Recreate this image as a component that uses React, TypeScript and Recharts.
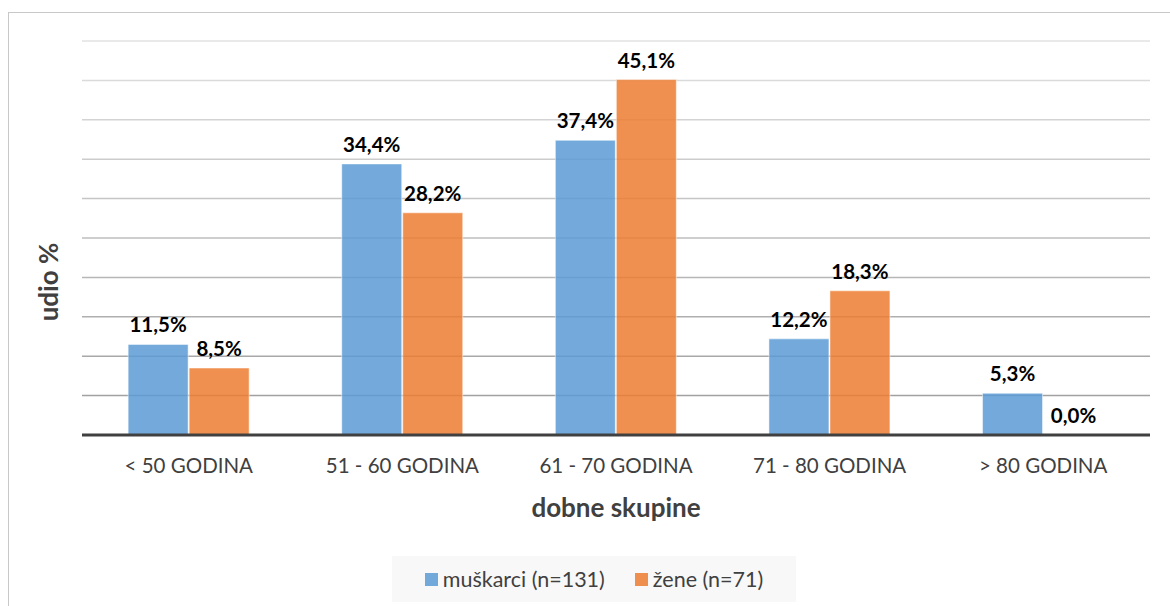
import { Bar, BarChart, CartesianGrid, LabelList, Legend, XAxis, YAxis } from "recharts";

const categories = ["< 50 GODINA", "51 - 60 GODINA", "61 - 70 GODINA", "71 - 80 GODINA", "> 80 GODINA"];
const muskarci = [11.5, 34.4, 37.4, 12.2, 5.3];
const zene = [8.5, 28.2, 45.1, 18.3, 0.0];
const yTicks = [0, 5, 10, 15, 20, 25, 30, 35, 40, 45, 50];

const series = [
  { key: "m", name: "muškarci (n=131)", color: "#5B9BD5" },
  { key: "z", name: "žene (n=71)", color: "#ED7D31" },
];

const data = categories.map((c, i) => ({ cat: c, m: muskarci[i], z: zene[i] }));

const FONT = "Lato, 'Open Sans', sans-serif";
const fmt = (v: any) => Number(v).toFixed(1).replace(".", ",") + "%";

function LegendBox() {
  return (
    <div
      style={{
        display: "flex",
        justifyContent: "center",
        alignItems: "center",
        gap: 30,
        width: 404,
        height: 46,
        background: "#f8f8f8",
        fontFamily: FONT,
        fontSize: 21.5,
        color: "#404040",
      }}
    >
      {series.map((s) => (
        <span key={s.key} style={{ display: "flex", alignItems: "center", gap: 5 }}>
          <span style={{ width: 13, height: 13, background: s.color, opacity: 0.85, display: "inline-block" }} />
          {s.name}
        </span>
      ))}
    </div>
  );
}

function ValueLabel(props: any) {
  const { x, y, width, height, value } = props;
  if (value === undefined || value === null) return null;
  const top = Math.min(Number(y), Number(y) + Number(height || 0));
  return (
    <text
      x={Number(x) + Number(width) / 2}
      y={top - 12}
      textAnchor="middle"
      fontFamily={FONT}
      fontWeight="bold"
      fontSize={20.5}
      fill="#000"
    >
      {fmt(value)}
    </text>
  );
}

function AxisTitles() {
  return (
    <g>
      <text x={616} y={517} textAnchor="middle" fontFamily={FONT} fontWeight="bold" fontSize={26} fill="#404040">
        dobne skupine
      </text>
      <text
        x={58}
        y={282}
        transform="rotate(-90, 58, 282)"
        textAnchor="middle"
        fontFamily={FONT}
        fontWeight="bold"
        fontSize={26}
        fill="#404040"
      >
        udio %
      </text>
    </g>
  );
}

export default function App() {
  return (
    <div style={{ position: "absolute", left: 0, top: 0, width: 1170, height: 606, background: "#fff", overflow: "hidden" }}>
      <div style={{ position: "absolute", left: 8, top: 12, width: 1180, height: 620, border: "1px solid #c8c8c8" }} />
      <div style={{ position: "absolute", left: 0, top: 0 }}>
        <BarChart
          width={1170}
          height={606}
          data={data}
          margin={{ top: 41, right: 20, bottom: 65, left: 82 }}
          barCategoryGap="21.6%"
          barGap={1}
        >
          <defs>
            <linearGradient id="gridGrad" gradientUnits="userSpaceOnUse" x1="0" y1="41" x2="0" y2="433">
              <stop offset="0" stopColor="#e2e2e2" />
              <stop offset="1" stopColor="#9a9a9a" />
            </linearGradient>
          </defs>
          <CartesianGrid vertical={false} stroke="url(#gridGrad)" strokeWidth={1.5} />
          <YAxis domain={[0, 50]} ticks={yTicks} hide />
          <XAxis
            dataKey="cat"
            height={60}
            tickLine={false}
            tickSize={0}
            tickMargin={23}
            axisLine={{ stroke: "#404040", strokeWidth: 3 }}
            tick={{ fill: "#404040", fontSize: 20.5, fontFamily: FONT }}
            label={{ content: () => <AxisTitles /> }}
          />
          <Legend
            content={() => <LegendBox />}
            wrapperStyle={{ position: "absolute", left: 392, top: 556, width: 404, height: 46, bottom: "auto" }}
          />
          {series.map((s) => (
            <Bar
              key={s.key}
              dataKey={s.key}
              name={s.name}
              fill={s.color}
              fillOpacity={0.85}
              stroke="#ffffff"
              strokeOpacity={0.5}
              minPointSize={(v: any) => (Number(v) === 0 ? 0.5 : 0)}
              isAnimationActive={false}
            >
              <LabelList dataKey={s.key} content={<ValueLabel />} />
            </Bar>
          ))}
        </BarChart>
      </div>
    </div>
  );
}
